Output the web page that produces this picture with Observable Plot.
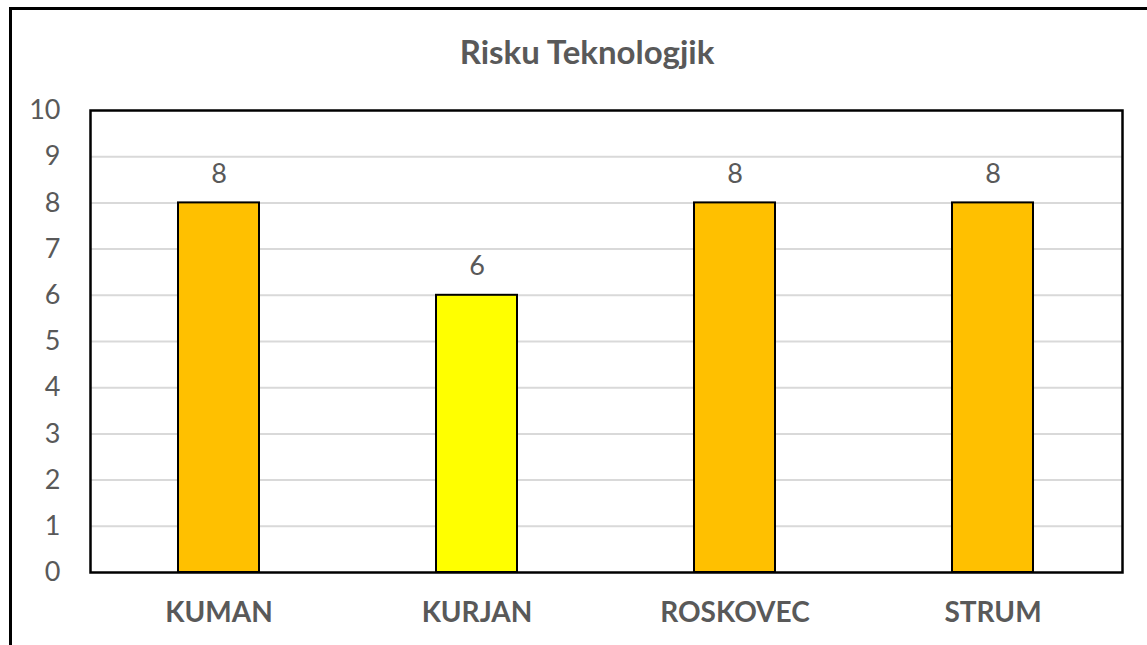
<!DOCTYPE html>
<html>
<head>
<meta charset="utf-8">
<script src="https://cdn.jsdelivr.net/npm/d3@7"></script>
<script src="https://cdn.jsdelivr.net/npm/@observablehq/plot@0.6"></script>
<style>
  html, body { margin: 0; padding: 0; background: #fff; overflow: hidden; width: 1147px; height: 645px; }
  #frame { position: absolute; left: 9px; top: 7px; width: 3000px; height: 3000px; border-left: 3px solid #000; border-top: 3px solid #000; box-sizing: border-box; }
  #title { position: absolute; left: 0; top: 0; width: 1174px; height: 80px; text-align: center; font-family: Lato, "Open Sans", sans-serif; font-weight: bold; font-size: 33px; color: #595959; line-height: 80px; padding-top: 11px; box-sizing: border-box; }
  #chart { position: absolute; left: 0; top: 80px; }
</style>
</head>
<body>
<div id="frame"></div>
<div id="title">Risku Teknologjik</div>
<div id="chart"></div>
<script>
const categories = ["KUMAN", "KURJAN", "ROSKOVEC", "STRUM"];
const values = [8, 6, 8, 8];
const yTicks = [0, 1, 2, 3, 4, 5, 6, 7, 8, 9, 10];
const barColors = ["#FFC000", "#FFFF00", "#FFC000", "#FFC000"];

const data = categories.map((name, i) => ({name, value: values[i]}));

const plot = Plot.plot({
  width: 1147,
  height: 565,
  marginTop: 30,
  marginBottom: 73,
  marginLeft: 90,
  marginRight: 25,
  style: {fontFamily: "Lato, 'Open Sans', sans-serif", background: "transparent", color: "#595959"},
  x: {domain: categories, paddingInner: 0.686, paddingOuter: 0.343, label: null},
  y: {domain: [0, 10], label: null},
  color: {domain: categories, range: barColors},
  marks: [
    Plot.ruleY(yTicks.filter(t => t > 0 && t < 10), {stroke: "#d9d9d9", strokeWidth: 2}),
    Plot.barY(data, {x: "name", y: "value", fill: "name", stroke: "#000", strokeWidth: 2}),
    Plot.text(data, {x: "name", y: "value", text: d => String(d.value), dy: -29, fill: "#595959", fontSize: 27}),
    Plot.axisY({ticks: yTicks, tickSize: 0, tickPadding: 30, fontSize: 27, color: "#595959", label: null}),
    Plot.axisX({tickSize: 0, tickPadding: 30, fontSize: 28, fontWeight: "bold", color: "#595959", label: null}),
    Plot.frame({stroke: "#000", strokeWidth: 2.5})
  ]
});
document.getElementById("chart").appendChild(plot);
</script>
</body>
</html>
